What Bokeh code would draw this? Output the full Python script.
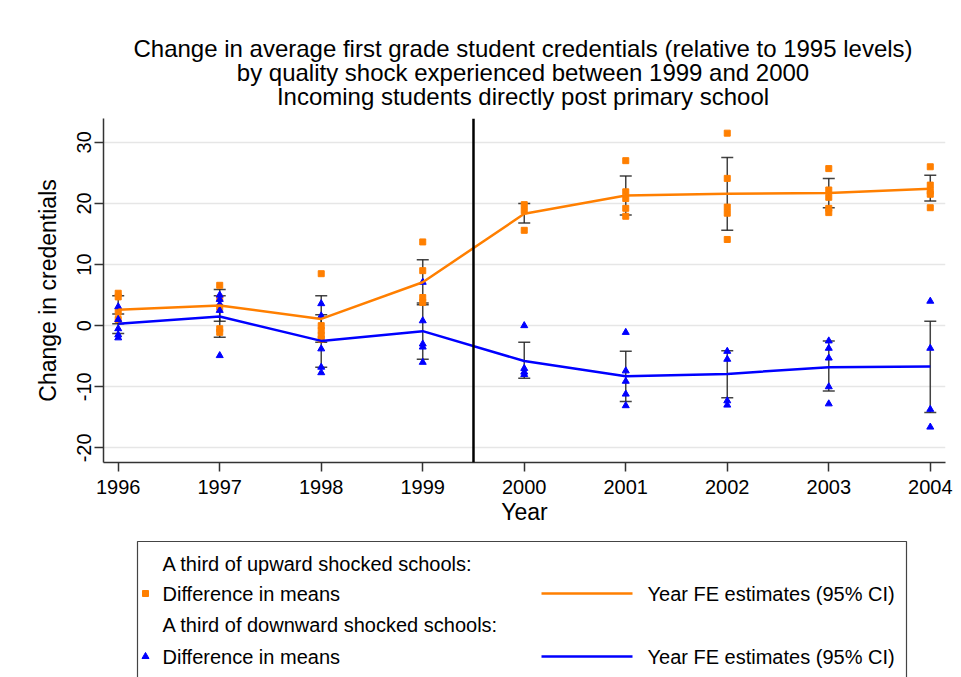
from bokeh.plotting import figure
from bokeh.models import Range1d, FixedTicker, Span, Whisker, ColumnDataSource, TeeHead
from bokeh.layouts import column
from bokeh.embed import file_html
from bokeh.resources import INLINE
from bokeh.core.properties import value

# ---------------- data ----------------
years = [1996, 1997, 1998, 1999, 2000, 2001, 2002, 2003, 2004]
y_ticks = [-20, -10, 0, 10, 20, 30]
y_tick_labels = ["-20", "-10", "0", "10", "20", "30"]

# Year FE estimates with 95% CI
up_fe = [2.6, 3.3, 1.1, 7.1, 18.3, 21.3, 21.6, 21.7, 22.4]
up_lo = [0.3, 0.7, -2.7, 3.4, 16.8, 18.1, 15.6, 19.3, 20.4]
up_hi = [4.9, 5.9, 4.9, 10.8, 20.0, 24.5, 27.5, 24.1, 24.6]

down_fe = [0.3, 1.5, -2.5, -0.9, -5.8, -8.3, -7.9, -6.8, -6.7]
down_lo = [-1.3, -1.9, -6.8, -5.5, -8.6, -12.4, -11.8, -10.7, -14.2]
down_hi = [1.9, 4.9, 1.8, 3.7, -2.7, -4.2, -4.1, -2.5, 0.7]

# Differences in means (individual points)
up_pts_year = [1996, 1996, 1996, 1996,
               1997, 1997, 1997, 1997, 1997,
               1998, 1998, 1998, 1998, 1998,
               1999, 1999, 1999, 1999,
               2000, 2000, 2000,
               2001, 2001, 2001, 2001, 2001,
               2002, 2002, 2002, 2002, 2002,
               2003, 2003, 2003, 2003, 2003,
               2004, 2004, 2004, 2004, 2004]
up_pts_val = [5.3, 4.7, 2.2, 1.0,
              6.6, 4.5, 3.0, -0.5, -1.1,
              8.5, 0.0, -0.8, -1.6, -2.2,
              13.7, 9.0, 4.6, 3.8,
              19.8, 18.8, 15.6,
              27.0, 21.9, 20.8, 19.2, 17.9,
              31.5, 24.1, 19.4, 18.4, 14.1,
              25.7, 22.2, 21.0, 19.2, 18.5,
              26.0, 23.0, 22.0, 21.5, 19.3]

down_pts_year = [1996, 1996, 1996, 1996, 1996,
                 1997, 1997, 1997, 1997, 1997,
                 1998, 1998, 1998, 1998, 1998,
                 1999, 1999, 1999, 1999, 1999,
                 2000, 2000, 2000, 2000,
                 2001, 2001, 2001, 2001, 2001,
                 2002, 2002, 2002, 2002,
                 2003, 2003, 2003, 2003, 2003,
                 2004, 2004, 2004, 2004]
down_pts_val = [3.1, 1.0, -0.5, -1.5, -2.0,
                5.0, 4.3, 3.5, 2.5, -4.9,
                3.6, 1.6, -3.8, -6.8, -7.7,
                7.1, 0.8, -3.0, -3.5, -6.0,
                0.0, -7.0, -7.6, -8.0,
                -1.1, -7.4, -9.1, -11.2, -13.1,
                -4.2, -5.5, -12.3, -13.0,
                -2.5, -3.7, -5.3, -10.0, -12.8,
                4.0, -3.7, -13.7, -16.6]

shock_year = 1999.5

title_lines = ["Change in average first grade student credentials (relative to 1995 levels)",
               "by quality shock experienced between 1999 and 2000",
               "Incoming students directly post primary school"]
x_label = "Year"
y_label = "Change in credentials"
legend_headers = ["A third of upward shocked schools:", "A third of downward shocked schools:"]
legend_pts_label = "Difference in means"
legend_line_label = "Year FE estimates (95% CI)"

# ---------------- style ----------------
ORANGE = "#FF7F00"
BLUE = "#0000FF"
CAP = "#222222"
FONT = "Liberation Sans"
W = 961
TITLE_H = 110
MAIN_BOTTOM = 530
MAIN_H = MAIN_BOTTOM - TITLE_H
LEG_H = 677 - MAIN_BOTTOM
BL, BR = 103, 16

# ---------------- title strip (frame coords = page pixels) ----------------
tf = figure(width=W, height=TITLE_H, title_location=None,
            x_range=Range1d(BL, W - BR), y_range=Range1d(TITLE_H, 0),
            x_axis_type=None, y_axis_type=None,
            output_backend="svg", toolbar_location=None,
            min_border_left=BL, min_border_right=BR, min_border_top=0, min_border_bottom=0)
tf.outline_line_color = None
tf.background_fill_color = "white"
tf.border_fill_color = "white"
tf.text(x=[522.5] * 3, y=[48, 72, 96], text=title_lines,
        text_align="center", text_baseline="middle",
        text_font=value(FONT), text_font_size="24px", text_color="black")

# ---------------- main plot ----------------
p = figure(width=W, height=MAIN_H, title_location=None,
           x_range=Range1d(1995.855, 2004.15), y_range=Range1d(-22.4, 33.9),
           output_backend="svg", toolbar_location=None,
           min_border_left=BL, min_border_right=BR, min_border_top=118 - TITLE_H,
           min_border_bottom=MAIN_BOTTOM - 462)
p.outline_line_color = None
p.background_fill_color = "white"
p.border_fill_color = "white"

p.xaxis.ticker = FixedTicker(ticks=years)
p.yaxis.ticker = FixedTicker(ticks=y_ticks)
p.yaxis.major_label_overrides = {t: s for t, s in zip(y_ticks, y_tick_labels)}
p.yaxis.major_label_orientation = "vertical"
for ax in (p.xaxis, p.yaxis):
    ax.axis_line_color = "#333333"
    ax.axis_line_width = 1.5
    ax.major_tick_line_color = "#333333"
    ax.major_tick_line_width = 1.5
    ax.major_tick_out = 9
    ax.major_tick_in = 0
    ax.minor_tick_line_color = None
    ax.major_label_text_font = FONT
    ax.major_label_text_font_size = "20px"
    ax.major_label_text_color = "black"
    ax.axis_label_text_font = FONT
    ax.axis_label_text_font_size = "23px"
    ax.axis_label_text_font_style = "normal"
    ax.axis_label_text_color = "black"
p.xaxis.axis_label = x_label
p.yaxis.axis_label = y_label
p.xaxis.major_label_standoff = 8
p.yaxis.major_label_standoff = 3
p.xaxis.axis_label_standoff = 2
p.yaxis.axis_label_standoff = 14

p.xgrid.visible = False
p.ygrid.ticker = FixedTicker(ticks=y_ticks)
p.ygrid.grid_line_color = "#E6E6E6"
p.ygrid.grid_line_width = 1.5

p.add_layout(Span(location=shock_year, dimension="height", line_color="black", line_width=2.5))

p.scatter(up_pts_year, up_pts_val, marker="square", size=6, color=ORANGE)
p.scatter(down_pts_year, down_pts_val, marker="triangle", size=7, color=BLUE)

p.line(years, up_fe, line_color=ORANGE, line_width=2.5)
p.line(years, down_fe, line_color=BLUE, line_width=2.5)

for lo, hi in ((up_lo, up_hi), (down_lo, down_hi)):
    src = ColumnDataSource(dict(x=years, lo=lo, hi=hi))
    w = Whisker(base="x", lower="lo", upper="hi", source=src,
                line_color=CAP, line_width=1.5, line_alpha=0.85,
                upper_head=TeeHead(size=12, line_color=CAP, line_width=1.5, line_alpha=0.85),
                lower_head=TeeHead(size=12, line_color=CAP, line_width=1.5, line_alpha=0.85))
    p.add_layout(w)

# ---------------- legend box (frame coords = page pixels) ----------------
lf = figure(width=W, height=LEG_H, title_location=None,
            x_range=Range1d(BL, W - BR), y_range=Range1d(677, MAIN_BOTTOM),
            x_axis_type=None, y_axis_type=None,
            output_backend="svg", toolbar_location=None,
            min_border_left=BL, min_border_right=BR, min_border_top=0, min_border_bottom=0)
lf.outline_line_color = None
lf.background_fill_color = "white"
lf.border_fill_color = "white"

lf.quad(left=[137], right=[906], top=[541], bottom=[700],
        fill_color=None, line_color="#444444", line_width=1.2)

row_y = [563, 593, 624, 656]
text_x = 162
lf.text(x=[text_x] * 4, y=row_y,
        text=[legend_headers[0], legend_pts_label, legend_headers[1], legend_pts_label],
        text_baseline="middle", text_align="left",
        text_font=value(FONT), text_font_size="20px", text_color="black")
lf.text(x=[647, 647], y=[row_y[1], row_y[3]], text=[legend_line_label] * 2,
        text_baseline="middle", text_align="left",
        text_font=value(FONT), text_font_size="20px", text_color="black")
lf.scatter([145], [row_y[1]], marker="square", size=6, color=ORANGE)
lf.scatter([145], [row_y[3]], marker="triangle", size=7, color=BLUE)
lf.segment(x0=[541], y0=[row_y[1]], x1=[632], y1=[row_y[1]], line_color=ORANGE, line_width=2.5)
lf.segment(x0=[541], y0=[row_y[3]], x1=[632], y1=[row_y[3]], line_color=BLUE, line_width=2.5)

layout = column(tf, p, lf, spacing=0)
open("out.html", "w").write(file_html(layout, INLINE))
